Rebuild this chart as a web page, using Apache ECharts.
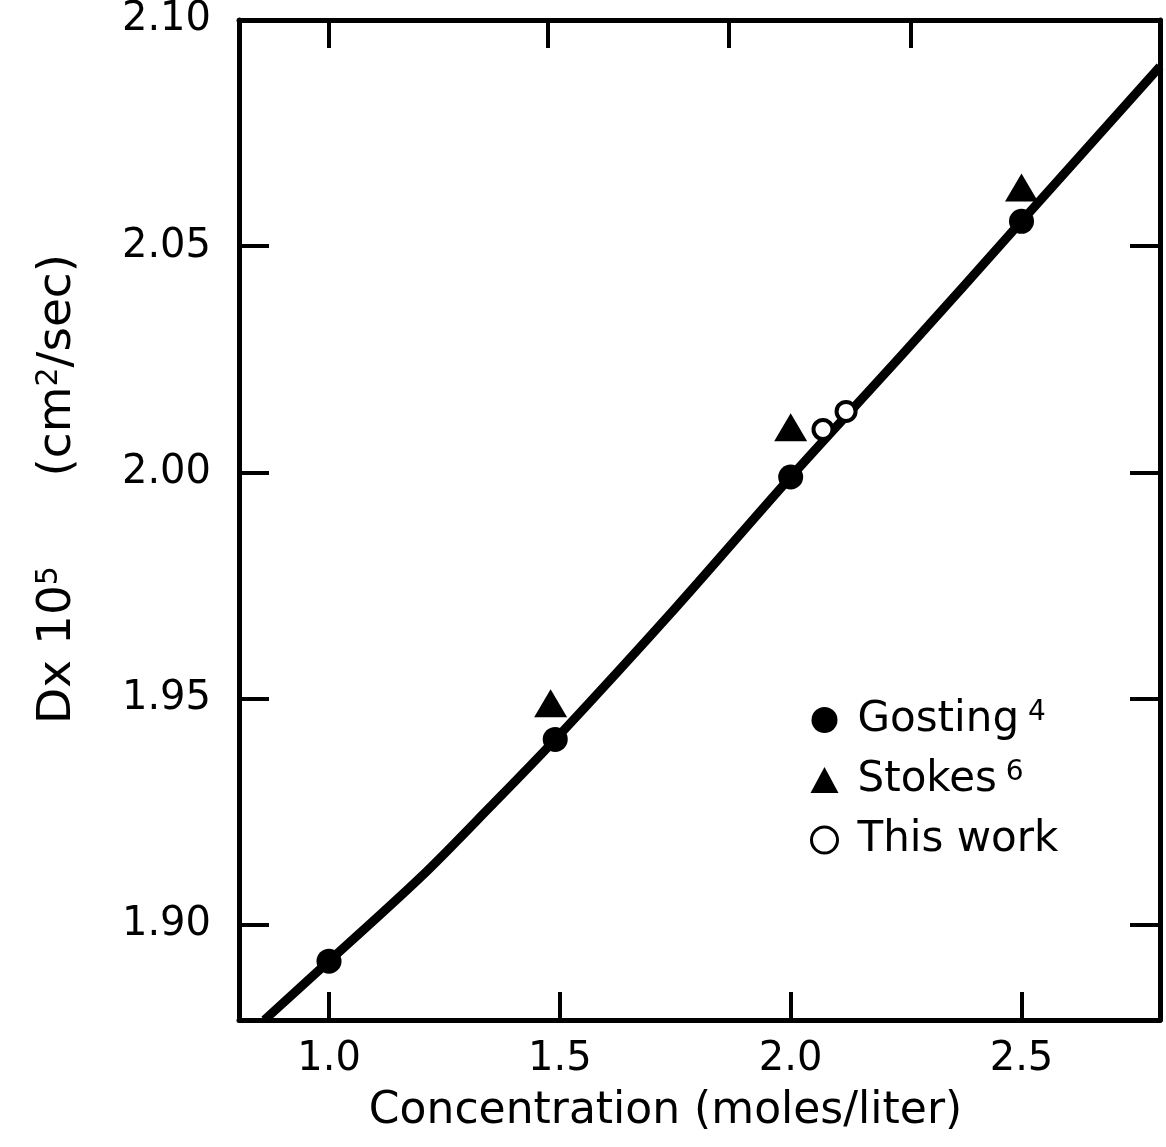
<!DOCTYPE html>
<html lang="en">
<head>
  <meta charset="UTF-8">
  <title>Diffusion coefficient vs concentration</title>
  <script src="https://cdn.jsdelivr.net/npm/echarts@6.0.0/dist/echarts.min.js"></script>
</head>
<body style="margin:0; background:#fff;">
  <div id="main" style="width: 1166px; height: 1147px;"></div>

  <script>
    // smooth fitted curve
    const curveX = [0.86, 1.0, 1.2, 1.35, 1.49, 1.75, 2.0, 2.25, 2.5, 2.8];
    const curveY = [1.879, 1.892, 1.9107, 1.9262, 1.941, 1.970, 1.999, 2.027, 2.0555, 2.0897];

    // measured points
    const gostingX = [1.0, 1.49, 2.0, 2.5];
    const gostingY = [1.892, 1.941, 1.999, 2.0555];
    const stokesX = [1.48, 2.0, 2.5];
    const stokesY = [1.949, 2.010, 2.063];
    const thisWorkX = [2.07, 2.12];
    const thisWorkY = [2.0095, 2.0135];

    // tick marks
    const xTicks = [1.0, 1.5, 2.0, 2.5];
    const xTopTicks = [1.0, 1.474, 1.866, 2.26];
    const yTicks = [1.90, 1.95, 2.00, 2.05, 2.10];

    const pairs = (xs, ys) => xs.map((x, i) => [x, ys[i]]);

    const font = 'DejaVu Sans';
    const ink = '#000';

    const myChart = echarts.init(document.getElementById('main'));

    const frameLine = { show: true, onZero: false, lineStyle: { color: ink, width: 5 } };

    const options = {
      backgroundColor: '#fff',
      animation: false,
      grid: { left: 239, right: 6, top: 17, bottom: 127 },
      legend: {
        orient: 'vertical',
        left: 805,
        top: 694,
        itemWidth: 28,
        itemHeight: 26,
        itemGap: 18,
        data: [
          { name: 'Gosting', icon: 'circle' },
          { name: 'Stokes', icon: 'triangle' },
          { name: 'This work', icon: 'circle', itemStyle: { color: '#fff', borderColor: ink, borderWidth: 3 } }
        ],
        formatter: name => {
          if (name === 'Gosting') return '{a|Gosting}{s| 4}';
          if (name === 'Stokes') return '{a|Stokes}{s| 6}';
          return '{a|This work}';
        },
        textStyle: {
          fontFamily: font,
          color: ink,
          padding: [0, 0, 0, 14],
          rich: {
            a: { fontFamily: font, fontSize: 42, color: ink },
            s: { fontFamily: font, fontSize: 28, color: ink, verticalAlign: 'top' }
          }
        }
      },
      xAxis: [{
        type: 'value',
        min: 0.805,
        max: 2.80,
        position: 'bottom',
        name: 'Concentration (moles/liter)',
        nameLocation: 'middle',
        nameGap: 70,
        nameTextStyle: { fontFamily: font, fontSize: 44, color: ink, padding: [0, 68, 0, 0] },
        axisLine: frameLine,
        axisTick: { inside: true, length: 28, customValues: xTicks, lineStyle: { color: ink, width: 4 } },
        axisLabel: {
          customValues: xTicks,
          margin: 20,
          fontFamily: font,
          fontSize: 40,
          color: ink,
          formatter: v => v.toFixed(1)
        },
        splitLine: { show: false }
      }, {
        type: 'value',
        min: 0.805,
        max: 2.80,
        position: 'top',
        axisLine: frameLine,
        axisTick: { inside: true, length: 28, customValues: xTopTicks, lineStyle: { color: ink, width: 4 } },
        axisLabel: { show: false },
        splitLine: { show: false }
      }],
      yAxis: [{
        type: 'value',
        min: 1.879,
        max: 2.10,
        position: 'left',
        name: '{a|Dx 10}{s|5}{a|      (cm}{s|2}{a|/sec)}',
        nameLocation: 'middle',
        nameRotate: 90,
        nameGap: 158,
        nameTextStyle: {
          color: ink,
          padding: [0, 0, 0, 62],
          rich: {
            a: { fontFamily: font, fontSize: 47, color: ink },
            s: { fontFamily: font, fontSize: 30, color: ink, verticalAlign: 'top' }
          }
        },
        axisLine: frameLine,
        axisTick: { inside: true, length: 30, customValues: yTicks, lineStyle: { color: ink, width: 4 } },
        axisLabel: {
          customValues: yTicks,
          margin: 28,
          padding: [10, 0, 0, 0],
          fontFamily: font,
          fontSize: 40,
          color: ink,
          formatter: v => v.toFixed(2)
        },
        splitLine: { show: false }
      }, {
        type: 'value',
        min: 1.879,
        max: 2.10,
        position: 'right',
        axisLine: frameLine,
        axisTick: { inside: true, length: 30, customValues: yTicks, lineStyle: { color: ink, width: 4 } },
        axisLabel: { show: false },
        splitLine: { show: false }
      }],
      series: [{
        name: 'curve',
        type: 'line',
        data: pairs(curveX, curveY),
        smooth: 0.3,
        showSymbol: false,
        symbol: 'none',
        clip: true,
        lineStyle: { color: ink, width: 9 },
        z: 2
      }, {
        name: 'Gosting',
        type: 'scatter',
        data: pairs(gostingX, gostingY),
        symbol: 'circle',
        symbolSize: 25,
        itemStyle: { color: ink, opacity: 1 },
        z: 3
      }, {
        name: 'Stokes',
        type: 'scatter',
        data: pairs(stokesX, stokesY),
        symbol: 'triangle',
        symbolSize: [33, 28],
        itemStyle: { color: ink, opacity: 1 },
        z: 3
      }, {
        name: 'This work',
        type: 'scatter',
        data: pairs(thisWorkX, thisWorkY),
        symbol: 'circle',
        symbolSize: 19,
        itemStyle: { color: '#fff', borderColor: ink, borderWidth: 4, opacity: 1 },
        z: 4
      }]
    };

    myChart.setOption(options);
  </script>
</body>
</html>
